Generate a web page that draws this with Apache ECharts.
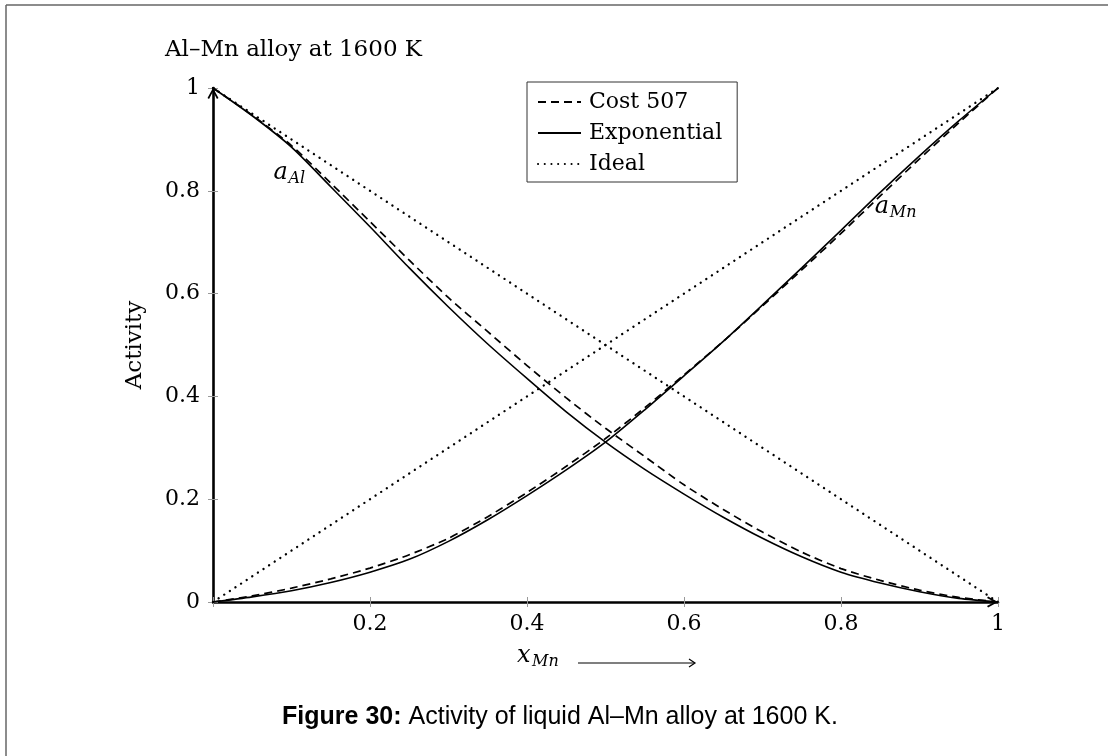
<!DOCTYPE html>
<html><head><meta charset="utf-8">
<script src="https://cdn.jsdelivr.net/npm/echarts@6/dist/echarts.min.js"></script>
<style>html,body{margin:0;padding:0;background:#fff}#c{width:1108px;height:756px}</style>
</head><body><div id="c"></div>
<script>
// ---- data ----
const xMn      = [0, 0.05, 0.10, 0.15, 0.20, 0.25, 0.30, 0.35, 0.40, 0.45, 0.50, 0.55, 0.60, 0.65, 0.70, 0.75, 0.80, 0.85, 0.90, 0.95, 1.00];
const aAlCost  = [1.000, 0.947, 0.888, 0.815, 0.740, 0.665, 0.592, 0.526, 0.460, 0.397, 0.338, 0.283, 0.228, 0.180, 0.136, 0.097, 0.065, 0.042, 0.023, 0.009, 0.000];
const aMnCost  = [0.000, 0.012, 0.027, 0.045, 0.066, 0.092, 0.124, 0.166, 0.213, 0.264, 0.318, 0.378, 0.442, 0.507, 0.576, 0.646, 0.717, 0.790, 0.862, 0.932, 1.000];
const aAlExp   = [1.000, 0.946, 0.885, 0.808, 0.730, 0.650, 0.574, 0.502, 0.435, 0.370, 0.311, 0.258, 0.210, 0.165, 0.124, 0.088, 0.058, 0.037, 0.020, 0.007, 0.000];
const aMnExp   = [0.000, 0.010, 0.022, 0.038, 0.058, 0.083, 0.118, 0.160, 0.207, 0.257, 0.311, 0.374, 0.440, 0.507, 0.578, 0.650, 0.723, 0.797, 0.868, 0.936, 1.000];
const idealX   = [0, 1];
const idealAl  = [1, 0];
const idealMn  = [0, 1];
const legendNames = ['Cost 507', 'Exponential', 'Ideal'];
const titleText = 'Al–Mn alloy at 1600 K';
const yName = 'Activity';
const captionBold = 'Figure 30:';
const captionText = ' Activity of liquid Al–Mn alloy at 1600 K.';
// annotation anchors in data coordinates
const labelAl = {x: 0.077, y: 0.835, main: 'a', sub: 'Al'};
const labelMn = {x: 0.843, y: 0.768, main: 'a', sub: 'Mn'};

const SERIF = 'DejaVu Serif';
const pairs = (xs, ys) => xs.map((x, i) => [x, ys[i]]);
const chev = 'path://M5,0 L10,9 L8.6,10 L5,3.2 L1.4,10 L0,9 Z';

const dashed = {color: '#000', width: 1.7, type: [8, 5]};
const solid  = {color: '#000', width: 1.6, type: 'solid'};
const dotted = {color: '#000', width: 2.3, type: [0.1, 6.6], cap: 'round'};
const blackItem = {color: '#000'};

const chart = echarts.init(document.getElementById('c'), null, {renderer: 'canvas'});
const axisCommon = {type: 'value', min: 0, max: 1, interval: 0.2, splitLine: {show: false}};
chart.setOption({
  animation: false,
  backgroundColor: '#fff',
  title: {text: titleText, left: 160, top: 34, textStyle: {fontFamily: SERIF, fontSize: 23, fontWeight: 'normal', color: '#000'}},
  grid: {left: 213, right: 110, top: 88, bottom: 154, containLabel: false},
  legend: {
    data: legendNames, orient: 'vertical', left: 527, top: 82,
    padding: [9, 15, 7, 10], itemWidth: 43, itemHeight: 12, itemGap: 9,
    borderColor: '#333', borderWidth: 1, selectedMode: false,
    itemStyle: {opacity: 0, borderWidth: 0},
    lineStyle: {width: 2},
    textStyle: {fontFamily: SERIF, fontSize: 22, color: '#000', padding: [0, 0, 0, 3]}
  },
  xAxis: [
    Object.assign({}, axisCommon, {
      position: 'bottom',
      axisLine: {show: true, onZero: false, lineStyle: {color: '#000', width: 2.6}, symbol: ['none', chev], symbolSize: [11, 11], symbolOffset: [0, -5.5]},
      axisTick: {show: true, length: 5, lineStyle: {color: '#999', width: 1}},
      axisLabel: {formatter: v => v === 0 ? '' : String(v), fontFamily: SERIF, fontSize: 22, color: '#000', margin: 11}
    }),
    Object.assign({}, axisCommon, {
      position: 'bottom',
      axisLine: {show: false}, axisLabel: {show: false},
      axisTick: {show: true, inside: true, length: 5, lineStyle: {color: '#999', width: 1}}
    })
  ],
  yAxis: [
    Object.assign({}, axisCommon, {
      position: 'left',
      name: yName, nameLocation: 'middle', nameGap: 66, nameRotate: 90,
      nameTextStyle: {fontFamily: SERIF, fontSize: 23, color: '#000'},
      axisLine: {show: true, onZero: false, lineStyle: {color: '#000', width: 2.6}, symbol: ['none', chev], symbolSize: [11, 11], symbolOffset: [0, -5.5]},
      axisTick: {show: true, length: 5, lineStyle: {color: '#999', width: 1}},
      axisLabel: {fontFamily: SERIF, fontSize: 22, color: '#000', margin: 13}
    }),
    Object.assign({}, axisCommon, {
      position: 'left',
      axisLine: {show: false}, axisLabel: {show: false},
      axisTick: {show: true, inside: true, length: 5, lineStyle: {color: '#999', width: 1}}
    })
  ],
  series: [
    {name: 'Cost 507', type: 'line', data: pairs(xMn, aAlCost), symbol: 'none', smooth: 0.25, lineStyle: dashed, itemStyle: blackItem, z: 3},
    {name: 'Cost 507', type: 'line', data: pairs(xMn, aMnCost), symbol: 'none', smooth: 0.25, lineStyle: dashed, itemStyle: blackItem, z: 3},
    {name: 'Exponential', type: 'line', data: pairs(xMn, aAlExp), symbol: 'none', smooth: 0.25, lineStyle: solid, itemStyle: blackItem, z: 4},
    {name: 'Exponential', type: 'line', data: pairs(xMn, aMnExp), symbol: 'none', smooth: 0.25, lineStyle: solid, itemStyle: blackItem, z: 4},
    {name: 'Ideal', type: 'line', data: pairs(idealX, idealAl), symbol: 'none', lineStyle: dotted, itemStyle: blackItem, z: 2},
    {name: 'Ideal', type: 'line', data: pairs(idealX, idealMn), symbol: 'none', lineStyle: dotted, itemStyle: blackItem, z: 2}
  ]
});

function subLabel(l) {
  const p = chart.convertToPixel({gridIndex: 0}, [l.x, l.y]);
  return [
    {type: 'text', x: p[0], y: p[1], style: {text: l.main, font: 'italic 24px "' + SERIF + '"', fill: '#000', verticalAlign: 'middle', align: 'left'}, z: 10},
    {type: 'text', x: p[0] + 15, y: p[1] + 6, style: {text: l.sub, font: 'italic 16px "' + SERIF + '"', fill: '#000', verticalAlign: 'middle', align: 'left'}, z: 10}
  ];
}
const xl = {x: 517, y: 656};
chart.setOption({
  graphic: [
    {type: 'line', shape: {x1: 6, y1: 5, x2: 1108, y2: 5}, style: {stroke: '#666', lineWidth: 1.5}},
    {type: 'line', shape: {x1: 6, y1: 5, x2: 6, y2: 756}, style: {stroke: '#666', lineWidth: 1.5}},
    ...subLabel(labelAl), ...subLabel(labelMn),
    {type: 'text', x: xl.x, y: xl.y, style: {text: 'x', font: 'italic 24px "' + SERIF + '"', fill: '#000', verticalAlign: 'middle'}},
    {type: 'text', x: xl.x + 15, y: xl.y + 6, style: {text: 'Mn', font: 'italic 16px "' + SERIF + '"', fill: '#000', verticalAlign: 'middle'}},
    {type: 'line', shape: {x1: 578, y1: 663, x2: 694, y2: 663}, style: {stroke: '#000', lineWidth: 1.2}},
    {type: 'polyline', shape: {points: [[689, 659], [695, 663], [689, 667]]}, style: {stroke: '#000', lineWidth: 1.2, fill: null}},
    {type: 'text', x: 560, y: 717, style: {
      text: '{b|' + captionBold + '}{r|' + captionText + '}',
      align: 'center', verticalAlign: 'middle',
      rich: {b: {fontFamily: 'Liberation Sans', fontSize: 25, fontWeight: 'bold', fill: '#000'},
             r: {fontFamily: 'Liberation Sans', fontSize: 25, fill: '#000'}}
    }}
  ]
});
</script></body></html>
